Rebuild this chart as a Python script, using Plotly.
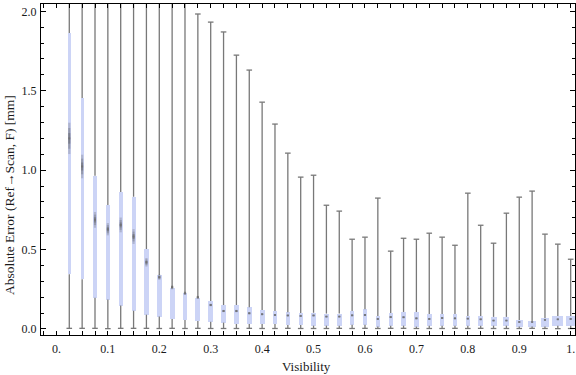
import plotly.graph_objects as go

# ---- data ----
visibility = [0.025, 0.05, 0.075, 0.1, 0.125, 0.15, 0.175, 0.2, 0.225, 0.25,
              0.275, 0.3, 0.325, 0.35, 0.375, 0.4, 0.425, 0.45, 0.475, 0.5,
              0.525, 0.55, 0.575, 0.6, 0.625, 0.65, 0.675, 0.7, 0.725, 0.75,
              0.775, 0.8, 0.825, 0.85, 0.875, 0.9, 0.925, 0.95, 0.975, 1.0]

lower_whisker = [0.004, 0.004, 0.004, 0.002, 0.004, 0.004, 0.004, 0.003, 0.004, 0.003,
                 0.004, 0.003, 0.003, 0.003, 0.004, 0.003, 0.003, 0.004, 0.003, 0.003,
                 0.003, 0.004, 0.003, 0.004, 0.003, 0.004, 0.004, 0.003, 0.003, 0.003,
                 0.004, 0.003, 0.004, 0.003, 0.003, 0.003, 0.004, 0.003, 0.002, 0.003]

q1 = [0.345, 0.313, 0.197, 0.185, 0.147, 0.115, 0.090, 0.078, 0.063, 0.057,
      0.050, 0.046, 0.040, 0.031, 0.031, 0.031, 0.031, 0.025, 0.025, 0.021,
      0.021, 0.021, 0.027, 0.027, 0.015, 0.021, 0.021, 0.015, 0.021, 0.021,
      0.021, 0.021, 0.021, 0.021, 0.021, 0.015, 0.015, 0.015, 0.021, 0.021]

median = [1.200, 1.023, 0.687, 0.628, 0.655, 0.582, 0.420, 0.326, 0.262, 0.225,
          0.199, 0.151, 0.113, 0.113, 0.099, 0.093, 0.088, 0.085, 0.082, 0.085,
          0.078, 0.078, 0.086, 0.088, 0.063, 0.075, 0.074, 0.067, 0.063, 0.069,
          0.067, 0.065, 0.061, 0.053, 0.053, 0.044, 0.044, 0.057, 0.061, 0.063]

q3 = [1.863, 1.454, 0.964, 0.781, 0.863, 0.832, 0.504, 0.340, 0.258, 0.229,
      0.197, 0.176, 0.151, 0.151, 0.137, 0.120, 0.113, 0.105, 0.101, 0.102,
      0.097, 0.097, 0.113, 0.124, 0.082, 0.101, 0.107, 0.107, 0.095, 0.095,
      0.095, 0.082, 0.082, 0.076, 0.076, 0.057, 0.050, 0.069, 0.082, 0.082]

upper_whisker = [2.60, 2.60, 2.60, 2.60, 2.60, 2.60, 2.60, 2.60, 2.60, 2.60,
                 1.983, 1.932, 1.870, 1.724, 1.630, 1.428, 1.290, 1.107, 0.956, 0.968,
                 0.779, 0.742, 0.565, 0.578, 0.824, 0.490, 0.571, 0.565, 0.603, 0.578,
                 0.527, 0.855, 0.653, 0.540, 0.729, 0.830, 0.868, 0.597, 0.534, 0.439]

x_tick_vals = [0.0, 0.1, 0.2, 0.3, 0.4, 0.5, 0.6, 0.7, 0.8, 0.9, 1.0]
x_tick_text = ["0.", "0.1", "0.2", "0.3", "0.4", "0.5", "0.6", "0.7", "0.8", "0.9", "1."]
y_tick_vals = [0.0, 0.5, 1.0, 1.5, 2.0]
y_tick_text = ["0.0", "0.5", "1.0", "1.5", "2.0"]
x_title = "Visibility"
y_title = "Absolute Error (Ref\u2192Scan, F) [mm]"

# ---- style ----
box_width = [0.0060, 0.0060, 0.0078, 0.0078, 0.0078, 0.0078, 0.0095, 0.0095, 0.0095, 0.0095,
             0.0095, 0.0095, 0.0095, 0.0095, 0.0095, 0.0095, 0.0095, 0.0085, 0.0085, 0.0085,
             0.0090, 0.0090, 0.0085, 0.0085, 0.0085, 0.0085, 0.0085, 0.0085, 0.0090, 0.0090,
             0.0090, 0.0090, 0.0100, 0.0115, 0.0115, 0.0135, 0.0170, 0.0170, 0.0210, 0.0195]
BOX_COLOR = "rgb(204,212,246)"
WHISKER_COLOR = "rgb(120,120,120)"
FONT = "'Liberation Serif', 'Times New Roman', Times, serif"
TEXT_COLOR = "#1a1a1a"

fig = go.Figure()

# boxes
fig.add_trace(go.Bar(
    x=visibility,
    y=[b - a for a, b in zip(q1, q3)],
    base=q1,
    width=box_width,
    marker=dict(color=BOX_COLOR, line=dict(width=0)),
    hoverinfo="skip",
))

# whiskers (outside the boxes)
wx, wy = [], []
for v, lo, a, b, hi in zip(visibility, lower_whisker, q1, q3, upper_whisker):
    wx += [v, v, None, v, v, None]
    wy += [lo, a, None, b, hi, None]
fig.add_trace(go.Scatter(x=wx, y=wy, mode="lines",
                         line=dict(color=WHISKER_COLOR, width=1.3), hoverinfo="skip"))

# whisker caps
fig.add_trace(go.Scatter(
    x=visibility + visibility, y=lower_whisker + upper_whisker, mode="markers",
    marker=dict(symbol="line-ew", size=4, line=dict(color=WHISKER_COLOR, width=1.3)),
    hoverinfo="skip"))

# median notch smear (layered for a soft gradient)
for k, alpha in [(0.065, 0.22), (0.043, 0.25), (0.022, 0.3)]:
    mx, my = [], []
    for v, m, a, b in zip(visibility, median, q1, q3):
        h = k * (b - a)
        mx += [v, v, None]
        my += [m - h, m + h, None]
    fig.add_trace(go.Scatter(x=mx, y=my, mode="lines",
                             line=dict(color=f"rgba(70,70,70,{alpha})", width=2.2),
                             hoverinfo="skip"))

# median point
fig.add_trace(go.Scatter(x=visibility, y=median, mode="markers",
                         marker=dict(symbol="square", size=2, color="rgba(110,110,110,0.8)"),
                         hoverinfo="skip"))

axis_common = dict(showline=True, linecolor="black", linewidth=1, mirror="ticks",
                   ticks="inside", tickcolor="black", tickwidth=1,
                   showgrid=False, zeroline=False, automargin=False,
                   tickfont=dict(family=FONT, size=12, color=TEXT_COLOR))

fig.update_xaxes(range=[-0.030, 1.0084], tickvals=x_tick_vals, ticktext=x_tick_text,
                 ticklen=4, ticklabelstandoff=3,
                 minor=dict(dtick=0.025, tick0=0, ticks="inside", ticklen=4,
                            tickcolor="black", tickwidth=1, showgrid=False),
                 **axis_common)
fig.update_yaxes(range=[-0.038, 2.046], tickvals=y_tick_vals, ticktext=y_tick_text,
                 ticklen=5, ticklabelstandoff=1,
                 minor=dict(dtick=0.1, tick0=0, ticks="inside", ticklen=3,
                            tickcolor="black", tickwidth=1, showgrid=False),
                 **axis_common)

fig.add_annotation(text=x_title, xref="paper", yref="paper", x=0.497, y=-0.095,
                   xanchor="center", yanchor="middle", showarrow=False,
                   font=dict(family=FONT, size=13, color=TEXT_COLOR))
fig.add_annotation(text=y_title, xref="paper", yref="paper", x=-0.058, y=0.423,
                   xanchor="center", yanchor="middle", textangle=-90, showarrow=False,
                   font=dict(family=FONT, size=13.5, color=TEXT_COLOR))

fig.update_layout(width=576, height=375,
                  margin=dict(l=41, r=1, t=4, b=40),
                  paper_bgcolor="white", plot_bgcolor="white",
                  showlegend=False, bargap=0)

fig.write_html("out.html", config={"displayModeBar": False},
               post_script="document.body.style.margin='0';document.body.style.overflow='hidden';")
